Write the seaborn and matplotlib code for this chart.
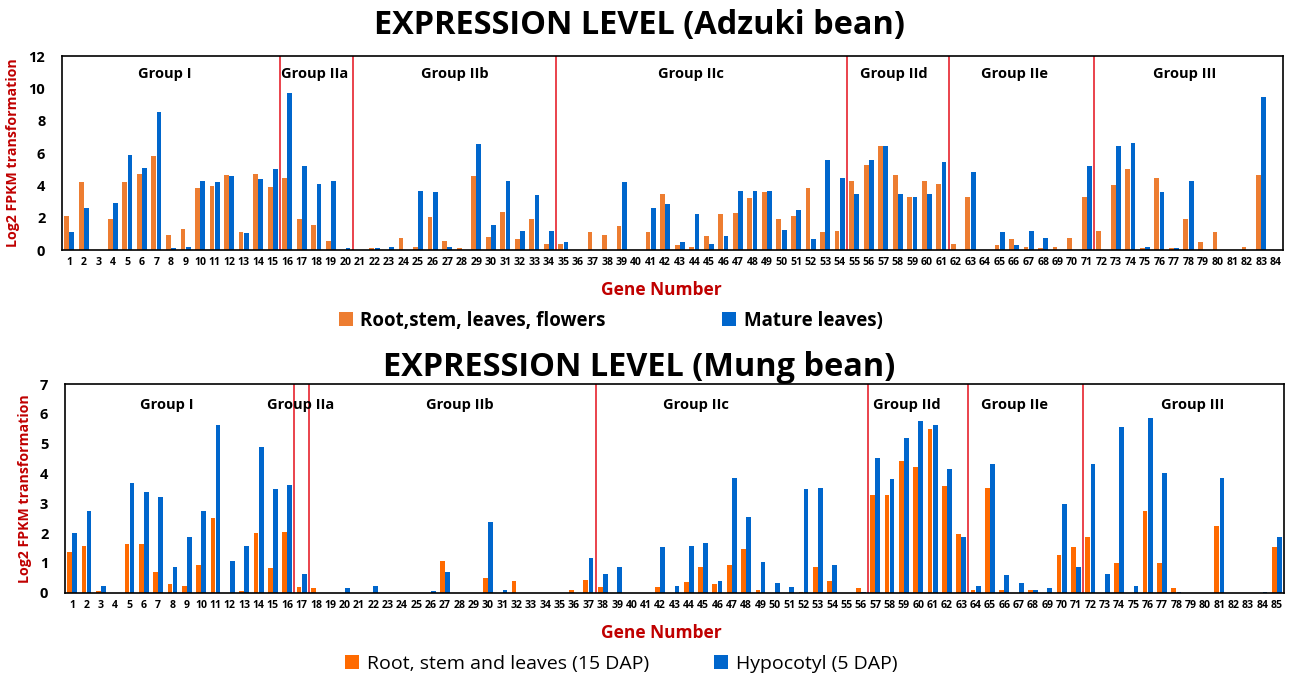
import numpy as np
import pandas as pd
import matplotlib
matplotlib.use("Agg")
import matplotlib.pyplot as plt
import seaborn as sns

# ---- Adzuki bean (84 genes) ----
adzuki_genes = [str(i) for i in range(1, 85)]
adzuki_root = [2.1, 4.2, 0, 1.9, 4.2, 4.7, 5.8, 0.9, 1.28, 3.83,
               3.93, 4.64, 1.1, 4.72, 3.91, 4.47, 1.93, 1.57, 0.56, 0,
               0, 0.1, 0, 0.75, 0.19, 2.03, 0.56, 0.1, 4.55, 0.83,
               2.38, 0.66, 1.93, 0.39, 0.39, 0, 1.1, 0.93, 1.49, 0,
               1.1, 3.48, 0.29, 0.19, 0.85, 2.22, 2.3, 3.2, 3.56, 1.93,
               2.1, 3.85, 1.1, 1.2, 4.29, 5.28, 6.46, 4.66, 3.29, 4.29,
               4.1, 0.39, 3.29, 0, 0.29, 0.66, 0.19, 0.1, 0.19, 0.75,
               3.29, 1.2, 4.02, 5.0, 0.1, 4.47, 0.1, 1.93, 0.48, 1.1,
               0, 0.19, 4.66, 0]
adzuki_mature = [1.1, 2.57, 0, 2.9, 5.9, 5.1, 8.55, 0.12, 0.2, 4.29,
                 4.2, 4.55, 1.03, 4.39, 5.0, 9.73, 5.2, 4.1, 4.29, 0.12,
                 0, 0.1, 0.2, 0, 3.64, 3.56, 0.2, 0, 6.56, 1.57,
                 4.29, 1.2, 3.4, 1.2, 0.48, 0, 0, 0, 4.2, 0,
                 2.57, 2.84, 0.48, 2.22, 0.39, 0.85, 3.64, 3.64, 3.64, 1.22,
                 2.46, 0.66, 5.57, 4.47, 3.48, 5.57, 6.46, 3.48, 3.29, 3.48,
                 5.47, 0, 4.82, 0, 1.1, 0.29, 1.2, 0.75, 0, 0,
                 5.2, 0, 6.46, 6.63, 0.19, 3.56, 0.1, 4.29, 0, 0,
                 0, 0, 9.46, 0]
adzuki_series = ["Root,stem, leaves, flowers", "Mature leaves)"]
adzuki_groups = ["Group I", "Group IIa", "Group IIb", "Group IIc", "Group IId", "Group IIe", "Group III"]
adzuki_breaks = [15, 20, 34, 54, 61, 71]   # red line after these gene numbers

# ---- Mung bean (85 genes) ----
mung_genes = [str(i) for i in range(1, 86)]
mung_root = [1.38, 1.57, 0.06, 0, 1.62, 1.62, 0.69, 0.29, 0.23, 0.93,
             2.49, 0, 0.06, 2.0, 0.83, 2.05, 0.19, 0.15, 0, 0,
             0, 0, 0, 0, 0, 0, 1.07, 0, 0, 0.48,
             0, 0.39, 0, 0, 0, 0.09, 0.44, 0.19, 0, 0,
             0, 0.19, 0, 0.35, 0.87, 0.29, 0.93, 1.47, 0.09, 0,
             0, 0.04, 0.87, 0.39, 0, 0.15, 3.28, 3.28, 4.41, 4.21,
             5.48, 3.57, 1.96, 0.09, 3.52, 0.09, 0, 0.09, 0, 1.28,
             1.52, 1.86, 0, 0.98, 0, 2.74, 0.98, 0.15, 0, 0,
             2.25, 0, 0, 0, 1.52]
mung_hypo = [2.0, 2.74, 0.23, 0, 3.67, 3.38, 3.22, 0.87, 1.86, 2.74,
             5.63, 1.07, 1.57, 4.9, 3.48, 3.62, 0.64, 0, 0, 0.15,
             0, 0.23, 0, 0, 0, 0.05, 0.68, 0, 0, 2.38,
             0.09, 0, 0, 0, 0, 0, 1.17, 0.64, 0.87, 0,
             0, 1.52, 0.23, 1.57, 1.67, 0.39, 3.86, 2.54, 1.02, 0.34,
             0.19, 3.47, 3.52, 0.93, 0, 0.04, 4.51, 3.81, 5.18, 5.77,
             5.63, 4.16, 1.86, 0.23, 4.31, 0.58, 0.34, 0.09, 0.15, 2.98,
             0.87, 4.31, 0.64, 5.57, 0.23, 5.87, 4.0, 0.04, 0, 0,
             3.86, 0, 0, 0.04, 1.86]
mung_series = ["Root, stem and leaves (15 DAP)", "Hypocotyl (5 DAP)"]
mung_groups = ["Group I", "Group IIa", "Group IIb", "Group IIc", "Group IId", "Group IIe", "Group III"]
mung_breaks = [16, 17, 37, 56, 63, 71]

RED = "#E8343E"
DARKRED = "#C00000"
BLUE = "#0066CC"

sns.set_style("white")
plt.rcParams['font.family'] = ['Open Sans', 'DejaVu Sans']
plt.rcParams['text.color'] = 'black'
plt.rcParams['xtick.color'] = 'black'
plt.rcParams['ytick.color'] = 'black'

fig = plt.figure(figsize=(12.94, 6.75), dpi=100)


def panel(rect, genes, a, b, names, colors, ymax, breaks, groups, gx, gy,
          title, title_y, xlab_y, leg_x, leg_y, leg_size, leg_bold, colsp):
    ax = fig.add_axes(rect)
    df = pd.DataFrame({
        "gene": genes * 2,
        "value": a + b,
        "series": [names[0]] * len(genes) + [names[1]] * len(genes),
    })
    sns.barplot(data=df, x="gene", y="value", hue="series", order=genes,
                palette=colors, width=0.72, gap=0.08, linewidth=0,
                saturation=1, ax=ax, legend=True)
    ax.set_ylim(0, ymax)
    ax.set_xlim(-0.5, len(genes) - 0.5)
    ax.set_yticks(range(0, ymax + 1, 2 if ymax > 8 else 1))
    for s in ax.spines.values():
        s.set_color("black")
        s.set_linewidth(1.2)
    ax.tick_params(axis="x", length=0, labelsize=7.6, pad=5)
    ax.tick_params(axis="y", length=0, labelsize=10.5, pad=12)
    for t in ax.get_xticklabels() + ax.get_yticklabels():
        t.set_fontweight("bold")
    for bk in breaks:
        ax.axvline(bk - 0.5, color=RED, lw=1.3)
    for g, x in zip(groups, gx):
        ax.text(x, gy, g, ha="center", va="center", fontsize=10.5, fontweight="bold")
    ax.set_xlabel("")
    ax.set_ylabel("Log2 FPKM transformation", color=DARKRED, fontsize=10.2,
                  fontweight="bold", labelpad=6)
    fig.text(0.511, xlab_y, "Gene Number", color=DARKRED, ha="center", va="center",
             fontsize=12.5, fontweight="bold")
    fig.text(0.494, title_y, title, ha="center", va="center", fontsize=23.4, fontweight="bold")
    handles, labels = ax.get_legend_handles_labels()
    ax.get_legend().remove()
    fig.legend(handles, labels, loc="center", bbox_to_anchor=(leg_x, leg_y), ncol=2,
               frameon=False, columnspacing=colsp, handlelength=0.75, handleheight=0.75,
               handletextpad=0.4,
               prop={"size": leg_size, "weight": "bold" if leg_bold else "medium"})
    return ax


panel([0.0479, 0.6296, 0.9436, 0.2874], adzuki_genes, adzuki_root, adzuki_mature,
      adzuki_series, ["#ED7D31", BLUE], 12, adzuki_breaks, adzuki_groups,
      [6.6, 16.9, 26.5, 42.8, 56.7, 65.0, 76.7], 10.9,
      "EXPRESSION LEVEL (Adzuki bean)", 0.962, 0.570, 0.472, 0.525, 13.5, True, 6.2)

panel([0.0502, 0.1219, 0.9420, 0.3092], mung_genes, mung_root, mung_hypo,
      mung_series, ["#FF6A00", BLUE], 7, mung_breaks, mung_groups,
      [6.6, 15.9, 27.0, 43.5, 58.2, 65.7, 78.1], 6.3,
      "EXPRESSION LEVEL (Mung bean)", 0.456, 0.062, 0.480, 0.017, 14, False, 3.3)

fig.savefig("out.png", dpi=100)
